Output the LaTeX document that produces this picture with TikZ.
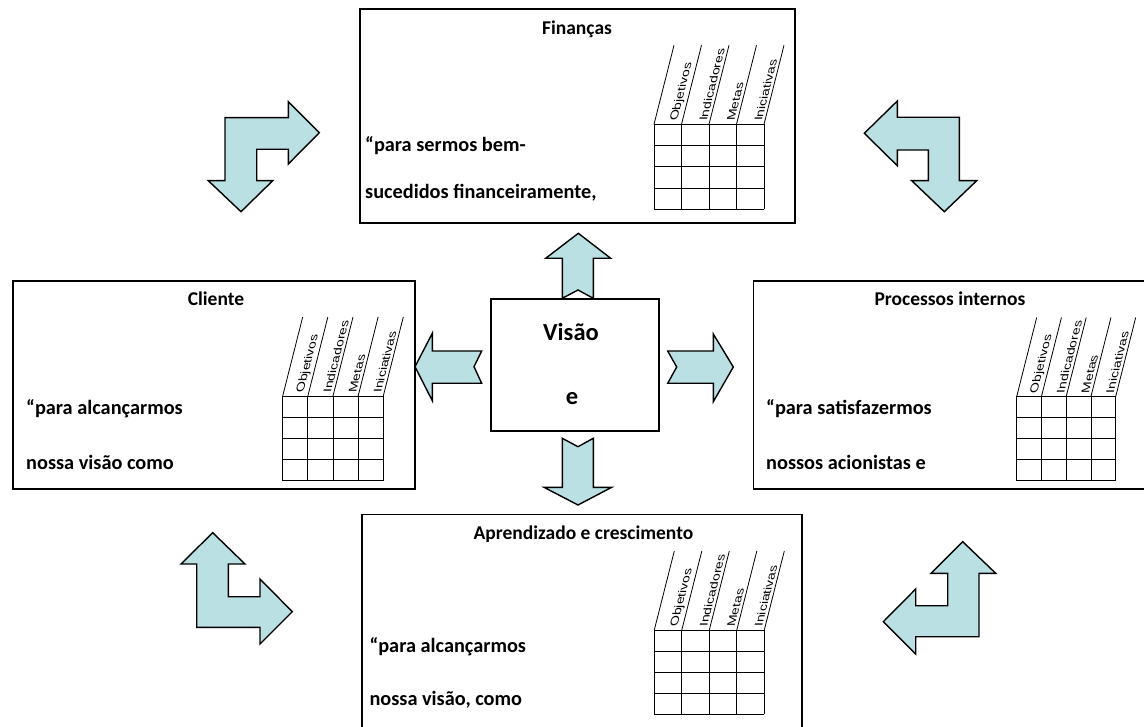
\documentclass[tikz,border=0pt]{standalone}
\usepackage{fontspec}
\setmainfont{Carlito}
\newfontfamily\hdrfont{Liberation Sans}
\definecolor{arrowfill}{RGB}{186,224,227}
\tikzset{
  box/.style={draw=black, line width=1.6pt, fill=white, inner sep=0pt, anchor=north west},
  blockarrow/.style={draw=black, line width=1.4pt, fill=arrowfill, line join=miter},
  tline/.style={draw=black, line width=0.8pt},
  hdr/.style={font=\hdrfont\fontsize{14}{14}\selectfont, cm={0.253,1,-0.8,0,(0,0)}, anchor=south west, inner sep=0.6pt},
  ttl/.style={font=\bfseries\fontsize{19.5}{20}\selectfont, anchor=base, inner sep=0pt},
  body/.style={font=\bfseries\fontsize{20.3}{21}\selectfont, anchor=base west, inner sep=0pt},
  vis/.style={font=\bfseries\fontsize{24.5}{25}\selectfont, anchor=base, inner sep=0pt}
}
\newcommand\KpiTable[5]{%
  \foreach \r in {0,...,4} {\draw[tline] (#1,#2+\r*#4) -- (#1+4*#3,#2+\r*#4);}
  \foreach \c in {0,...,4} {\draw[tline] (#1+\c*#3,#2) -- (#1+\c*#3,#2+4*#4);
                            \draw[tline] (#1+\c*#3,#2) -- ++(20,-79);}
  \foreach \lab [count=\c] in {Objetivos,Indicadores,Metas,Iniciativas}
    {\node[hdr] (#5\c) at (#1+\c*#3-1.6,#2-2.5) {\lab};}
}
\begin{document}
\begin{tikzpicture}[x=1pt,y=-1pt]
\useasboundingbox[fill=white] (0,0) rectangle (1144,727);

% perspective boxes
\node[box, minimum width=435pt, minimum height=214pt] (fin) at (359,8) {};
\node[box, minimum width=402pt, minimum height=208pt] (cli) at (12,280) {};
\node[box, minimum width=400pt, minimum height=208pt] (proc) at (752.7,280) {};
\node[box, minimum width=440pt, minimum height=230pt] (apr) at (361,513.5) {};
\node[box, minimum width=168.3pt, minimum height=131.7pt] (vc) at (490,298.3) {};

% titles and texts
\node[ttl] (finT) at (577,34.5) {Finanças};
\node[body] (fin1) at (365,152) {“para sermos bem-};
\node[body] (fin2) at (365,199) {sucedidos financeiramente,};

\node[ttl] (cliT) at (216,306) {Cliente};
\node[body] (cli1) at (26,415) {“para alcançarmos};
\node[body] (cli2) at (26,469) {nossa visão como};

\node[ttl] (procT) at (950,306) {Processos internos};
\node[body] (proc1) at (766,414.5) {“para satisfazermos};
\node[body] (proc2) at (766,469) {nossos acionistas e};

\node[ttl] (aprT) at (583.5,539.5) {Aprendizado e crescimento};
\node[body] (apr1) at (369.3,652.5) {“para alcançarmos};
\node[body] (apr2) at (369.3,705.5) {nossa visão, como};

\node[vis] (vcT) at (571,341) {Visão};
\node[vis] (vcE) at (572,404.5) {e};

% tables
\KpiTable{654}{124.3}{27.5}{21.25}{finH}
\KpiTable{282.7}{396}{25.15}{21.2}{cliH}
\KpiTable{1016.7}{396.5}{24.75}{21}{procH}
\KpiTable{654.3}{630}{27.5}{21}{aprH}

% central block arrows
\draw[blockarrow] (562.3,298.3) -- (562.3,258.3) -- (545.7,258.3) -- (578.3,233.3) -- (610.7,258.3)
  -- (593.3,258.3) -- (593.3,298.3) -- (578,290) -- cycle;
\draw[blockarrow] (415,366.7) -- (432.3,333.3) -- (432.3,351) -- (481.7,351) -- (474,366.7)
  -- (481.7,383.3) -- (432.3,383.3) -- (432.3,400.7) -- cycle;
\draw[blockarrow] (667.7,351) -- (713.3,351) -- (713.3,334) -- (733.3,367) -- (713.3,401.7)
  -- (713.3,383.3) -- (667.7,383.3) -- (676.7,367) -- cycle;
\draw[blockarrow] (562.3,438.3) -- (578,446.7) -- (593.3,438.3) -- (593.3,487.3) -- (611.7,487.3)
  -- (578,505) -- (544,487.3) -- (562.3,487.3) -- cycle;

% corner bent arrows
\draw[blockarrow] (225,117.7) -- (288.3,117.7) -- (288.3,101.7) -- (319.3,132.7) -- (288.3,164)
  -- (288.3,149.3) -- (256.7,149.3) -- (256.7,180.7) -- (272.7,180.7) -- (241,211.7)
  -- (208.3,180.7) -- (225,180.7) -- cycle;
\draw[blockarrow] (959.3,117.3) -- (897.3,117.3) -- (897.3,101) -- (864.3,133.3) -- (897.3,165.7)
  -- (897.3,150) -- (928.3,150) -- (928.3,180.7) -- (911.7,180.7) -- (944.3,211.7)
  -- (976.7,180.7) -- (959.3,180.7) -- cycle;
\draw[blockarrow] (212.7,532.7) -- (245,564) -- (228.3,564) -- (228.3,596.7) -- (260,596.7)
  -- (260,579) -- (292.3,611.7) -- (260,644) -- (260,627.3) -- (196.7,627.3) -- (196.7,564)
  -- (181,564) -- cycle;
\draw[blockarrow] (962.7,541.7) -- (995.7,573.3) -- (979,573.3) -- (979,636.7) -- (915.7,636.7)
  -- (915.7,654) -- (883.3,621.7) -- (915.7,589) -- (915.7,605.7) -- (947.7,605.7)
  -- (947.7,573.3) -- (931,573.3) -- cycle;
\end{tikzpicture}
\end{document}
